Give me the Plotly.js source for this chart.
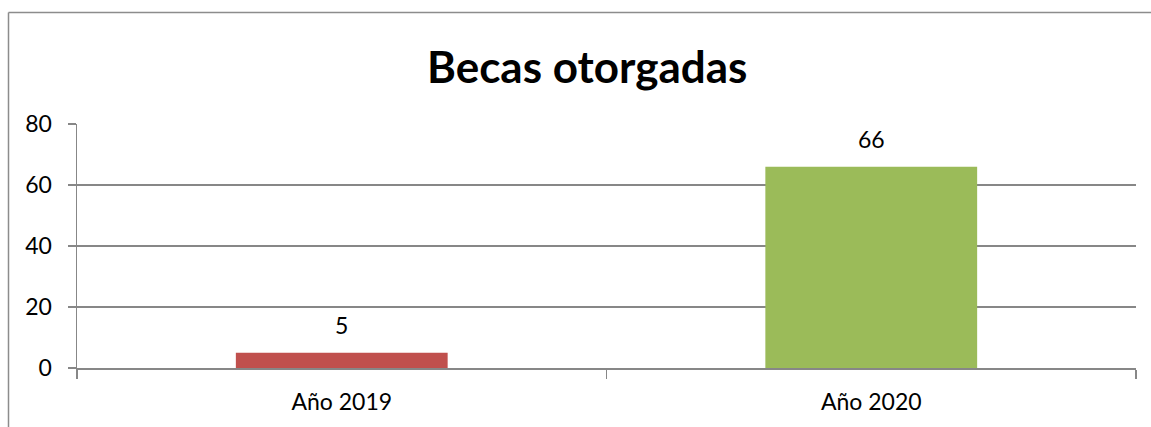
<!DOCTYPE html>
<html>
<head>
<meta charset="utf-8">
<script src="https://cdn.plot.ly/plotly-3.0.1.min.js"></script>
<style>
html,body{margin:0;padding:0;background:#fff;}
#chart{width:1151px;height:427px;}
</style>
</head>
<body>
<div id="chart"></div>
<script>
var categories = ["Año 2019", "Año 2020"];
var values = [5, 66];
var barColors = ["#C0504D", "#9BBB59"];
var yTicks = [0, 20, 40, 60, 80];

var W = 1151, H = 427;
var mL = 77, mR = 15, mT = 124, mB = 59;
var pw = W - mL - mR, ph = H - mT - mB;
function px2x(px){ return (px - mL) / pw; }
function py2y(py){ return (H - mB - py) / ph; }

var FONT = "Lato, 'Open Sans', sans-serif";

var trace = {
  type: "bar",
  x: categories,
  y: values,
  width: 0.4,
  marker: {color: barColors, line: {width: 0}},
  hoverinfo: "none"
};

var annotations = categories.map(function(c, i){
  return {
    x: c, y: values[i], xref: "x", yref: "y",
    text: String(values[i]), showarrow: false,
    yanchor: "bottom", yshift: 12,
    font: {family: FONT, size: 23, color: "#000"}
  };
});
annotations.push({
  xref: "paper", yref: "paper",
  x: px2x(587), y: py2y(66),
  xanchor: "center", yanchor: "middle",
  text: "<b>Becas otorgadas</b>", showarrow: false,
  font: {family: FONT, size: 44, color: "#000"}
});

var layout = {
  width: W, height: H,
  margin: {l: mL, r: mR, t: mT, b: mB, pad: 0},
  paper_bgcolor: "#fff", plot_bgcolor: "#fff",
  showlegend: false,
  font: {family: FONT, size: 23, color: "#000"},
  xaxis: {
    type: "category",
    range: [-0.5, 1.5],
    showgrid: false,
    showline: true, linecolor: "#878787", linewidth: 1.5,
    ticks: "outside", tickson: "boundaries", ticklen: 9, tickcolor: "#878787", tickwidth: 1.5,
    ticklabelstandoff: 13,
    tickfont: {family: FONT, size: 23, color: "#000"},
    zeroline: false, fixedrange: true
  },
  yaxis: {
    range: [0, 80],
    tickvals: yTicks,
    showgrid: true, gridcolor: "#878787", gridwidth: 1.5,
    showline: true, linecolor: "#878787", linewidth: 1.5,
    ticks: "outside", ticklen: 8, tickcolor: "#878787", tickwidth: 1.5,
    ticklabelstandoff: 11,
    tickfont: {family: FONT, size: 23, color: "#000"},
    zeroline: false, fixedrange: true
  },
  annotations: annotations,
  shapes: [
    {type: "line", xref: "paper", yref: "paper", x0: px2x(8.5), x1: px2x(1160), y0: py2y(12.5), y1: py2y(12.5), line: {color: "#8c8c8c", width: 1.5}},
    {type: "line", xref: "paper", yref: "paper", x0: px2x(8.5), x1: px2x(8.5), y0: py2y(12.5), y1: py2y(440), line: {color: "#8c8c8c", width: 1.5}}
  ]
};

Plotly.newPlot("chart", [trace], layout, {displayModeBar: false, staticPlot: true});
</script>
</body>
</html>
